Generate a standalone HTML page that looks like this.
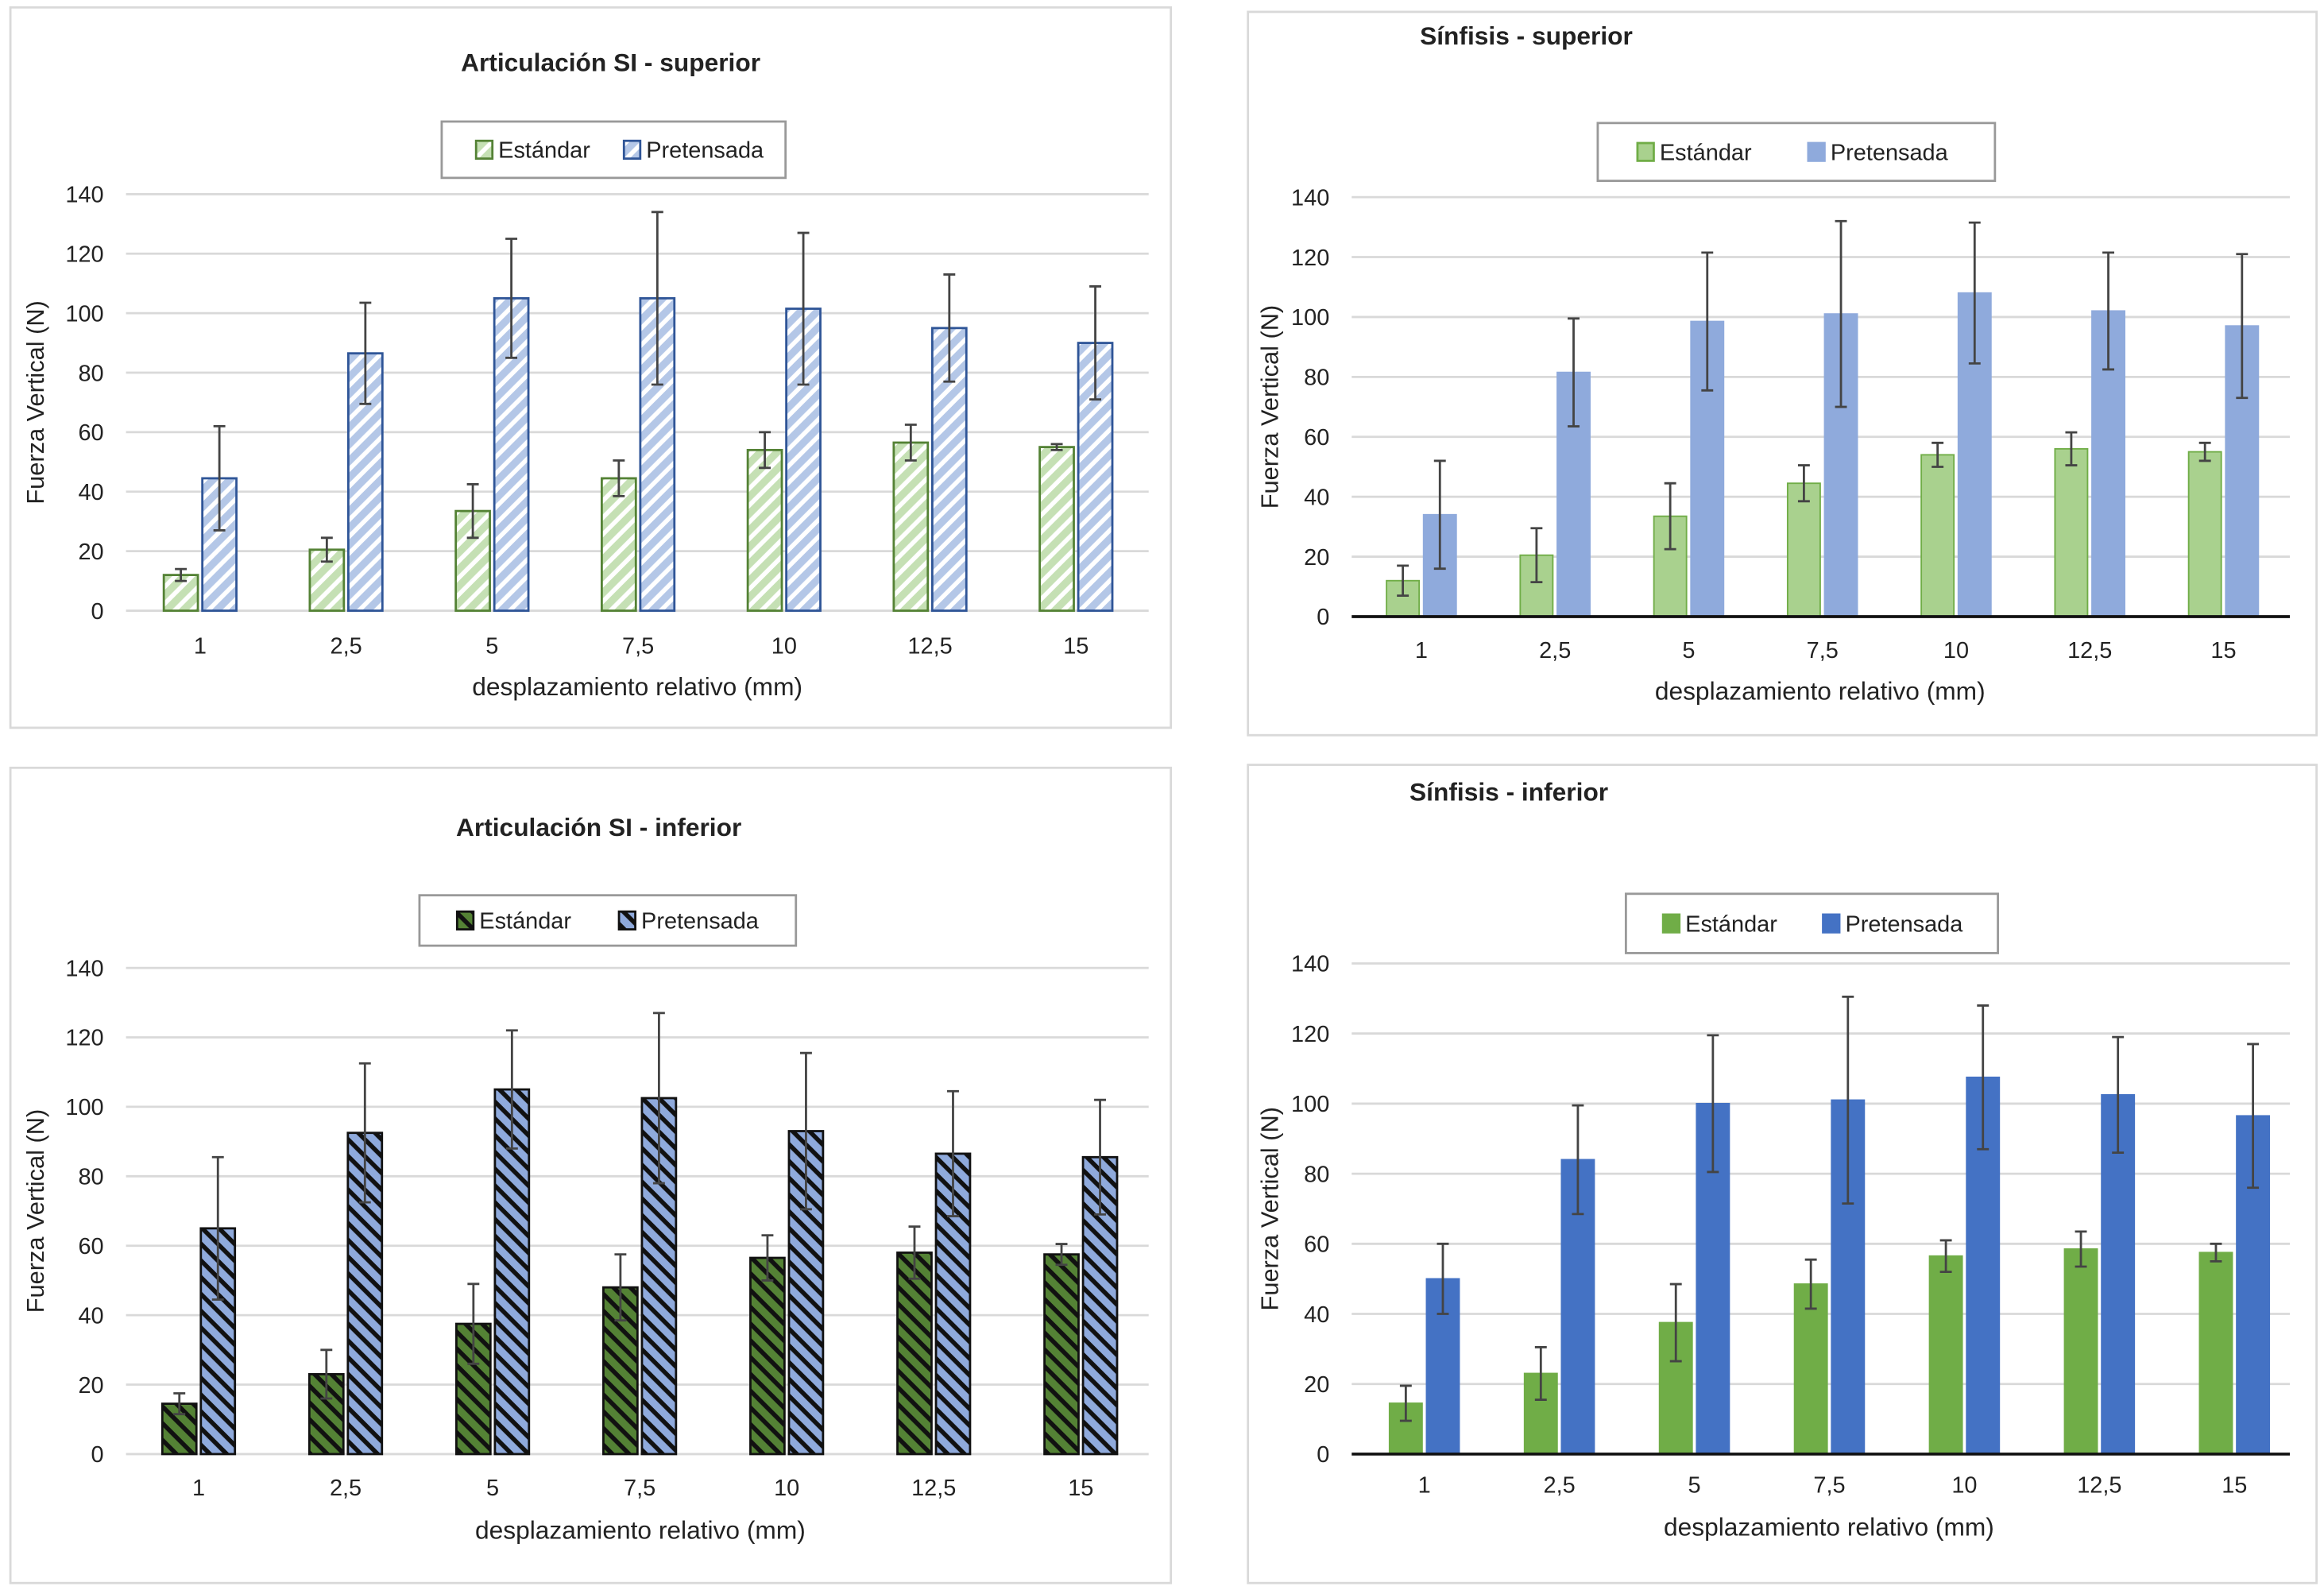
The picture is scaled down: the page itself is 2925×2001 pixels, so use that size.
<!DOCTYPE html>
<html><head><meta charset="utf-8">
<style>
html,body{margin:0;padding:0;background:#fff}
svg{display:block}
text{font-family:"Liberation Sans",sans-serif;fill:#222}
</style></head>
<body>
<svg id="root" xmlns="http://www.w3.org/2000/svg" width="2925" height="2001" viewBox="0 0 1568 1072.7">
<defs>
<pattern id="p1g" patternUnits="userSpaceOnUse" width="8" height="8" patternTransform="rotate(45)"><rect width="8" height="8" fill="#fff"/><rect width="5" height="8" fill="#c5e0b4"/></pattern>
<pattern id="p1b" patternUnits="userSpaceOnUse" width="8" height="8" patternTransform="rotate(45)"><rect width="8" height="8" fill="#fff"/><rect width="5" height="8" fill="#b4c7e7"/></pattern>
<pattern id="p3g" patternUnits="userSpaceOnUse" width="8" height="8" patternTransform="rotate(-45)"><rect width="8" height="8" fill="#111"/><rect width="5" height="8" fill="#548235"/></pattern>
<pattern id="p3b" patternUnits="userSpaceOnUse" width="8" height="8" patternTransform="rotate(-45)"><rect width="8" height="8" fill="#111"/><rect width="5" height="8" fill="#8faadc"/></pattern>
</defs>
</svg>
<script>
const categories = ["1","2,5","5","7,5","10","12,5","15"];
const yTicks = [0,20,40,60,80,100,120,140];
// Articulación SI - superior
const asiSupStd = [12,20.5,33.5,44.5,54,56.5,55];
const asiSupStdErr = [2,4,9,6,6,6,1];
const asiSupPre = [44.5,86.5,105,105,101.5,95,90];
const asiSupPreErr = [17.5,17,20,29,25.5,18,19];
// Sínfisis - superior
const sinSupStd = [12,20.5,33.5,44.5,54,56,55];
const sinSupStdErr = [5,9,11,6,4,5.5,3];
const sinSupPre = [34,81.5,98.5,101,108,102,97];
const sinSupPreErr = [18,18,23,31,23.5,19.5,24];
// Articulación SI - inferior
const asiInfStd = [14.5,23,37.5,48,56.5,58,57.5];
const asiInfStdErr = [3,7,11.5,9.5,6.5,7.5,3];
const asiInfPre = [65,92.5,105,102.5,93,86.5,85.5];
const asiInfPreErr = [20.5,20,17,24.5,22.5,18,16.5];
// Sínfisis - inferior
const sinInfStd = [14.5,23,37.5,48.5,56.5,58.5,57.5];
const sinInfStdErr = [5,7.5,11,7,4.5,5,2.5];
const sinInfPre = [50,84,100,101,107.5,102.5,96.5];
const sinInfPreErr = [10,15.5,19.5,29.5,20.5,16.5,20.5];

const NS="http://www.w3.org/2000/svg";
const root=document.getElementById('root');
function mk(tag,attrs,parent,txt){const e=document.createElementNS(NS,tag);for(const k in attrs)e.setAttribute(k,attrs[k]);if(txt!==undefined)e.textContent=txt;(parent||root).appendChild(e);return e;}

const charts=[
 {id:'asi-sup',title:'Articulación SI - superior',box:[7,5,783,486],tx:412,ty:48,tanchor:'middle',leg:[298,82,232,38],
  y0:412,y140:131,x0:85,x1:775,c0:135,step:98.5,bw:23,axisBlack:false,ylx:25,xly:441,xty:469,xtx:430,
  std:asiSupStd,stdE:asiSupStdErr,pre:asiSupPre,preE:asiSupPreErr,
  gFill:'url(#p1g)',gStroke:'#548235',bFill:'url(#p1b)',bStroke:'#2f5597',sw:1.5},
 {id:'sin-sup',title:'Sínfisis - superior',box:[842,8,721,488],tx:958,ty:30,tanchor:'start',leg:[1078,83,268,39],
  y0:416,y140:133,x0:912,x1:1545,c0:959,step:90.2,bw:22,axisBlack:true,ylx:858,xly:444,xty:472,xtx:1228,
  std:sinSupStd,stdE:sinSupStdErr,pre:sinSupPre,preE:sinSupPreErr,
  gFill:'#a9d18e',gStroke:'#70ad47',bFill:'#8faadc',bStroke:'#8faadc',sw:1},
 {id:'asi-inf',title:'Articulación SI - inferior',box:[7,518,783,550],tx:404,ty:564,tanchor:'middle',leg:[283,604,254,34],
  y0:981,y140:653,x0:85,x1:775,c0:134,step:99.2,bw:23,axisBlack:false,ylx:25,xly:1009,xty:1038,xtx:432,
  std:asiInfStd,stdE:asiInfStdErr,pre:asiInfPre,preE:asiInfPreErr,
  gFill:'url(#p3g)',gStroke:'#111',bFill:'url(#p3b)',bStroke:'#111',sw:1.5},
 {id:'sin-inf',title:'Sínfisis - inferior',box:[842,516,721,552],tx:951,ty:540,tanchor:'start',leg:[1097,603,251,40],
  y0:981,y140:650,x0:912,x1:1545,c0:961,step:91.1,bw:22,axisBlack:true,ylx:858,xly:1007,xty:1036,xtx:1234,
  std:sinInfStd,stdE:sinInfStdErr,pre:sinInfPre,preE:sinInfPreErr,
  gFill:'#70ad47',gStroke:'#70ad47',bFill:'#4472c4',bStroke:'#4472c4',sw:1}
];

charts.forEach(c=>{
  const g=mk('g',{});
  
  
  const fr=mk('rect',{x:c.box[0],y:c.box[1],width:c.box[2],height:c.box[3],fill:'#fff',stroke:'#d9d9d9','stroke-width':1.5},g);
  
  
  const t=mk('text',{x:c.tx,y:c.ty,'text-anchor':c.tanchor,'font-size':17,'font-weight':'bold'},g,c.title);
  
  
  const yS=v=>c.y0-(v/140)*(c.y0-c.y140);
  const xC=i=>c.c0+i*c.step;
  yTicks.forEach(v=>{
    const y=yS(v);
    if(!(v===0&&c.axisBlack)){const l=mk('line',{x1:c.x0,x2:c.x1,y1:y,y2:y,stroke:'#d9d9d9','stroke-width':1.5},g);
      
      }
    const tl=mk('text',{x:c.x0-15,y:y+5.5,'text-anchor':'end','font-size':15.5},g,String(v));
    
    
  });
  categories.forEach((cat,i)=>{
    const tl=mk('text',{x:xC(i),y:c.xly,'text-anchor':'middle','font-size':15.5},g,cat);
    
    
  });
  const xt=mk('text',{x:c.xtx,y:c.xty,'text-anchor':'middle','font-size':17},g,'desplazamiento relativo (mm)');
  
  
  const ymid=(c.y0+c.y140)/2;
  const yt=mk('text',{x:c.ylx,y:ymid,'text-anchor':'middle','font-size':16.5,transform:`rotate(-90 ${c.ylx} ${ymid})`,'dominant-baseline':'middle'},g,'Fuerza Vertical (N)');
  
  
  const series=[[c.std,c.stdE,c.gFill,c.gStroke,-1,'standard'],[c.pre,c.preE,c.bFill,c.bStroke,1,'pretensioned']];
  series.forEach(s=>{
    s[0].forEach((v,i)=>{
      const cx=xC(i)+s[4]*(c.bw/2+1.5);
      const b=mk('rect',{x:cx-c.bw/2,y:yS(v),width:c.bw,height:yS(0)-yS(v),fill:s[2],stroke:s[3],'stroke-width':c.sw},g);
      
      
      const e=s[1][i];
      const ep=mk('path',{d:`M${cx} ${yS(v+e)}V${yS(Math.max(0,v-e))}M${cx-4} ${yS(v+e)}h8M${cx-4} ${yS(Math.max(0,v-e))}h8`,stroke:'#444','stroke-width':1.5,fill:'none'},g);
      
      
    });
  });
  if(c.axisBlack){const a=mk('line',{x1:c.x0,x2:c.x1,y1:c.y0,y2:c.y0,stroke:'#111','stroke-width':2},g);
    
    }
  const L=c.leg;
  const lb=mk('rect',{x:L[0],y:L[1],width:L[2],height:L[3],fill:'#fff',stroke:'#999','stroke-width':1.5},g);
  
  
  const ly=L[1]+L[3]/2;
  const items=[[c.gFill,c.gStroke,'Estándar',L[0]+L[2]*0.1],[c.bFill,c.bStroke,'Pretensada',L[0]+L[2]*0.53]];
  items.forEach((it,k)=>{
    const sq=mk('rect',{x:it[3],y:ly-6,width:11,height:12,fill:it[0],stroke:it[1],'stroke-width':1.5},g);
    
    
    const lt=mk('text',{x:it[3]+15,y:ly+5.5,'font-size':15.5},g,it[2]);
    
    
  });
});
</script>
</body></html>
